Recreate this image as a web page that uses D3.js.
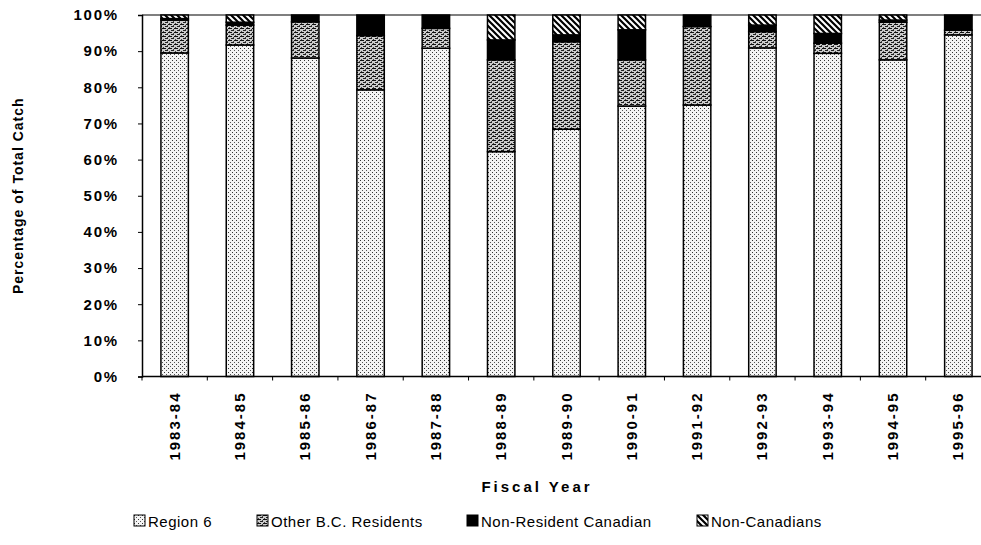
<!DOCTYPE html>
<html>
<head>
<meta charset="utf-8">
<script src="https://cdn.jsdelivr.net/npm/d3@7/dist/d3.min.js"></script>
<style>
  html, body { margin: 0; padding: 0; background: #fff; }
  svg { display: block; font-family: "Liberation Sans", Arial, sans-serif; }
</style>
</head>
<body>
<svg id="chart" width="981" height="545"></svg>
<script>
// Share of total catch by angler origin, per fiscal year (percent)
const categories = ["1983-84", "1984-85", "1985-86", "1986-87", "1987-88", "1988-89", "1989-90",
                    "1990-91", "1991-92", "1992-93", "1993-94", "1994-95", "1995-96"];
const region6   = [89.5, 91.7, 88.1, 79.3, 90.8, 62.2, 68.4, 74.8, 75.1, 90.9, 89.4, 87.6, 94.5];
const otherBC   = [ 9.1,  5.5, 10.0, 15.0,  5.5, 25.4, 24.2, 12.8, 21.7,  4.5,  2.8, 10.4,  1.3];
const nonResCan = [ 0.4,  0.8,  1.9,  5.7,  3.7,  5.5,  1.9,  8.3,  3.2,  1.8,  2.7,  0.6,  4.2];
const nonCan    = [ 1.0,  2.0,  0.0,  0.0,  0.0,  6.9,  5.5,  4.1,  0.0,  2.8,  5.1,  1.4,  0.0];
const seriesNames = ["Region 6", "Other B.C. Residents", "Non-Resident Canadian", "Non-Canadians"];
const yTicks = [0, 10, 20, 30, 40, 50, 60, 70, 80, 90, 100];

const svg = d3.select("#chart");
const defs = svg.append("defs");

// Fill patterns
const pRegion = defs.append("pattern").attr("id", "p-region")
  .attr("patternUnits", "userSpaceOnUse").attr("width", 4).attr("height", 4);
pRegion.append("rect").attr("width", 4).attr("height", 4).attr("fill", "#f4f4f4");
pRegion.append("rect").attr("x", 0).attr("y", 0).attr("width", 1).attr("height", 1).attr("fill", "#333");
pRegion.append("rect").attr("x", 2).attr("y", 2).attr("width", 1).attr("height", 1).attr("fill", "#555");

const pOther = defs.append("pattern").attr("id", "p-other")
  .attr("patternUnits", "userSpaceOnUse").attr("width", 6).attr("height", 4);
pOther.append("rect").attr("width", 6).attr("height", 4).attr("fill", "#ccc");
pOther.append("rect").attr("x", 0).attr("y", 0).attr("width", 4).attr("height", 1).attr("fill", "#111");
pOther.append("rect").attr("x", 3).attr("y", 2).attr("width", 3).attr("height", 1).attr("fill", "#222");
pOther.append("rect").attr("x", 1).attr("y", 3).attr("width", 1).attr("height", 1).attr("fill", "#444");
pOther.append("rect").attr("x", 5).attr("y", 1).attr("width", 1).attr("height", 1).attr("fill", "#444");

const pHatch = defs.append("pattern").attr("id", "p-hatch")
  .attr("patternUnits", "userSpaceOnUse").attr("width", 6).attr("height", 6);
pHatch.append("rect").attr("width", 6).attr("height", 6).attr("fill", "#fff");
pHatch.append("path").attr("d", "M-1,-1 L7,7 M-1,5 L1,7 M5,-1 L7,1")
  .attr("stroke", "#000").attr("stroke-width", 2.2);

const fills = ["url(#p-region)", "url(#p-other)", "#000", "url(#p-hatch)"];

const x = d3.scaleBand().domain(categories).range([142, 991])
  .paddingInner(0.58).paddingOuter(0.29);
const y = d3.scaleLinear().domain([0, 100]).range([376.5, 15]);

const table = categories.map((c, i) => ({
  cat: c, s0: region6[i], s1: otherBC[i], s2: nonResCan[i], s3: nonCan[i]
}));
const stack = d3.stack().keys(["s0", "s1", "s2", "s3"])(table);

// Plot frame top line
svg.append("line").attr("x1", 142).attr("x2", 991).attr("y1", y(100)).attr("y2", y(100))
  .attr("stroke", "#000").attr("stroke-width", 1.2);

// Bars
stack.forEach((layer, k) => {
  svg.append("g").selectAll("rect").data(layer.filter(d => d[1] - d[0] > 0)).join("rect")
    .attr("x", d => x(d.data.cat))
    .attr("width", x.bandwidth())
    .attr("y", d => y(d[1]))
    .attr("height", d => y(d[0]) - y(d[1]))
    .attr("fill", fills[k])
    .attr("stroke", "#000").attr("stroke-width", 1.5);
});

// Y axis
const yAxis = svg.append("g").attr("transform", "translate(142,0)")
  .call(d3.axisLeft(y).tickValues(yTicks).tickSize(4).tickPadding(19).tickFormat(d => d + "%"));
yAxis.select(".domain").attr("stroke-width", 1.5);
yAxis.selectAll("text").attr("font-size", 15).attr("font-weight", "bold")
  .attr("letter-spacing", 1.8).attr("fill", "#000")
  .attr("font-family", "'Liberation Sans', Arial, sans-serif");

// X axis: ticks at category boundaries
const xAxisG = svg.append("g").attr("transform", `translate(0,${y(0)})`);
xAxisG.append("line").attr("x1", 142).attr("x2", 991).attr("stroke", "#000").attr("stroke-width", 1.5);
const boundaries = categories.map((c, i) => 142 + i * x.step()).concat([142 + categories.length * x.step()]);
xAxisG.selectAll(".bt").data(boundaries).join("line").attr("class", "bt")
  .attr("x1", d => d).attr("x2", d => d).attr("y1", 0).attr("y2", 4)
  .attr("stroke", "#000").attr("stroke-width", 1);
xAxisG.selectAll(".xl").data(categories).join("text").attr("class", "xl")
  .attr("transform", d => `translate(${x(d) + x.bandwidth() / 2 + 5},15) rotate(-90)`)
  .attr("text-anchor", "end")
  .attr("font-size", 15).attr("font-weight", "bold").attr("letter-spacing", 2)
  .text(d => d);

// Axis titles
svg.append("text")
  .attr("transform", `translate(23,${(y(0) + y(100)) / 2}) rotate(-90)`)
  .attr("text-anchor", "middle").attr("font-size", 14).attr("font-weight", "bold")
  .attr("letter-spacing", 1)
  .text("Percentage of Total Catch");
svg.append("text")
  .attr("x", 537).attr("y", 492)
  .attr("text-anchor", "middle").attr("font-size", 15).attr("font-weight", "bold")
  .attr("letter-spacing", 3)
  .text("Fiscal Year");

// Legend
const legendX = [134, 257, 467, 697];
const legend = svg.append("g").selectAll("g").data(seriesNames).join("g")
  .attr("transform", (d, i) => `translate(${legendX[i]},515)`);
legend.append("rect").attr("width", 11).attr("height", 11)
  .attr("fill", (d, i) => fills[i]).attr("stroke", "#000").attr("stroke-width", 1);
legend.append("text").attr("x", 14).attr("y", 12)
  .attr("font-size", 15).attr("letter-spacing", 0.5)
  .text(d => d);
</script>
</body>
</html>
